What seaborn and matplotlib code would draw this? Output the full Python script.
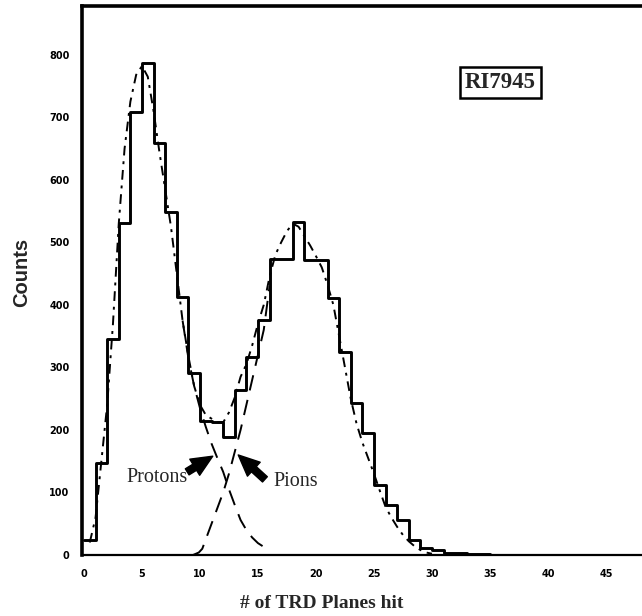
import numpy as np
import pandas as pd
import matplotlib
matplotlib.use("Agg")
import matplotlib.pyplot as plt
import seaborn as sns

# ---- data ----
bin_left = [0, 1, 2, 3, 4, 5, 6, 7, 8, 9, 10, 11, 12, 13, 14, 15, 16, 17, 18, 19,
            20, 21, 22, 23, 24, 25, 26, 27, 28, 29, 30, 31, 32, 33, 34]
counts = [24, 147, 346, 531, 709, 787, 659, 549, 413, 291, 215, 212, 189, 264, 317, 376,
          474, 474, 533, 472, 472, 411, 325, 243, 195, 112, 80, 56, 24, 11, 8, 3, 3, 2, 1]

total_x = [0.5, 1.0, 1.5, 2.0, 2.5, 3.0, 3.5, 4.0, 4.5, 5.0, 5.5, 6.0, 6.5, 7.0, 7.5, 8.0,
           8.5, 9.0, 9.5, 10.0, 10.5, 11.0, 11.5, 12.0, 12.5, 13.0, 13.5, 14.0, 14.5, 15.0,
           15.5, 16.0, 16.5, 17.0, 17.5, 18.0, 18.5, 19.0, 19.5, 20.0, 20.5, 21.0, 21.5,
           22.0, 22.5, 23.0, 23.5, 24.0, 24.5, 25.0, 25.5, 26.0, 26.5, 27.0, 27.5, 28.0,
           28.5, 29.0, 29.5, 30.0]
total_y = [20, 60, 150, 240, 370, 530, 650, 725, 768, 782, 765, 710, 645, 585, 525, 450,
           375, 318, 270, 240, 224, 218, 212, 212, 228, 252, 285, 305, 335, 370,
           400, 445, 480, 500, 518, 530, 525, 510, 495, 478, 460, 432, 400,
           350, 300, 250, 210, 180, 155, 130, 103, 77, 60, 45, 32, 22,
           14, 8, 4, 2]

proton_x = [8.5, 9.0, 9.5, 10.0, 10.5, 11.0, 11.5, 12.0, 12.5, 13.0, 13.5, 14.0, 14.5, 15.0, 15.5, 15.8]
proton_y = [375, 315, 270, 235, 205, 178, 155, 133, 105, 80, 56, 40, 28, 19, 13, 8]

pion_x = [9.4, 9.9, 10.2, 10.5, 11.0, 11.5, 12.0, 12.5, 13.0, 13.5, 14.0, 14.5, 15.0, 15.5, 16.0]
pion_y = [0, 4, 10, 25, 50, 75, 100, 130, 165, 200, 240, 280, 320, 360, 430]

x_ticks = [0, 5, 10, 15, 20, 25, 30, 35, 40, 45]
y_ticks = [0, 100, 200, 300, 400, 500, 600, 700, 800]

# ---- figure ----
sns.set_style("white")
plt.rcParams["font.family"] = ["DejaVu Sans"]
serif = ["Liberation Serif", "DejaVu Serif"]
sans = ["Liberation Sans", "DejaVu Sans"]

fig = plt.figure(figsize=(6.42, 6.16), dpi=100)
ax = fig.add_axes([82 / 642, 1 - 555 / 616, (660 - 82) / 642, (555 - 6) / 616])

hist_df = pd.DataFrame({"x": [b + 0.5 for b in bin_left], "w": counts})
sns.histplot(data=hist_df, x="x", weights="w", binwidth=1, binrange=(0, 35),
             element="step", fill=False, color="black", linewidth=2.1, ax=ax)

sns.lineplot(x=total_x, y=total_y, ax=ax, color="black", linewidth=1.4,
             linestyle=(0, (5, 3, 1.5, 3)), sort=False)
sns.lineplot(x=proton_x, y=proton_y, ax=ax, color="black", linewidth=1.4,
             linestyle=(0, (8, 5)), sort=False)
sns.lineplot(x=pion_x, y=pion_y, ax=ax, color="black", linewidth=1.4,
             linestyle=(0, (8, 5)), sort=False)

ax.set_xlim(-0.17, 49.66)
ax.set_ylim(0, 878)

ax.set_xticks(x_ticks)
ax.set_xticklabels([str(v) for v in x_ticks], fontsize=7, fontweight="bold")
ax.set_yticks(y_ticks)
ax.set_yticklabels([str(v) for v in y_ticks], fontsize=7, fontweight="bold")
ax.set_xticks(np.arange(0, 50, 1), minor=True)
ax.set_yticks(np.arange(0, 880, 20), minor=True)
ax.tick_params(axis="x", which="major", direction="in", length=8, width=1.6,
               colors="black", pad=10)
ax.tick_params(axis="y", which="major", direction="in", length=9, width=1.6,
               colors="black", pad=9)
ax.tick_params(axis="both", which="minor", direction="in", length=4.5, width=1.2,
               colors="black")
ax.tick_params(top=False, right=False, which="both")

for s in ["left", "top"]:
    ax.spines[s].set_linewidth(2.6)
    ax.spines[s].set_color("black")
ax.spines["bottom"].set_linewidth(1.6)
ax.spines["bottom"].set_color("black")
ax.spines["right"].set_visible(False)

ax.set_xlabel("")
ax.set_ylabel("")
fig.text(322 / 642, 1 - 603 / 616, "# of TRD Planes hit", family=serif, fontsize=14,
         fontweight="bold", ha="center", va="center")
fig.text(22 / 642, 1 - 272 / 616, "Counts", family=sans, fontsize=14.5,
         fontweight="bold", rotation=90, ha="center", va="center")

ax.text(35.9, 755, "RI7945", family=serif, fontsize=16.5, fontweight="bold",
        ha="center", va="center",
        bbox=dict(boxstyle="square,pad=0.22", fc="white", ec="black", lw=1.8))

ax.text(8.95, 124, "Protons", family=serif, fontsize=14.5, ha="right", va="center")
ax.text(16.3, 118, "Pions", family=serif, fontsize=14.5, ha="left", va="center")

arrow = dict(arrowstyle="simple,head_width=0.85,head_length=0.95,tail_width=0.32",
             color="black", shrinkA=0, shrinkB=0, mutation_scale=16)
ax.annotate("", xy=(11.1, 158), xytext=(8.9, 133), arrowprops=arrow)
ax.annotate("", xy=(13.3, 160), xytext=(15.6, 121), arrowprops=arrow)

fig.savefig("out.png", dpi=100)
